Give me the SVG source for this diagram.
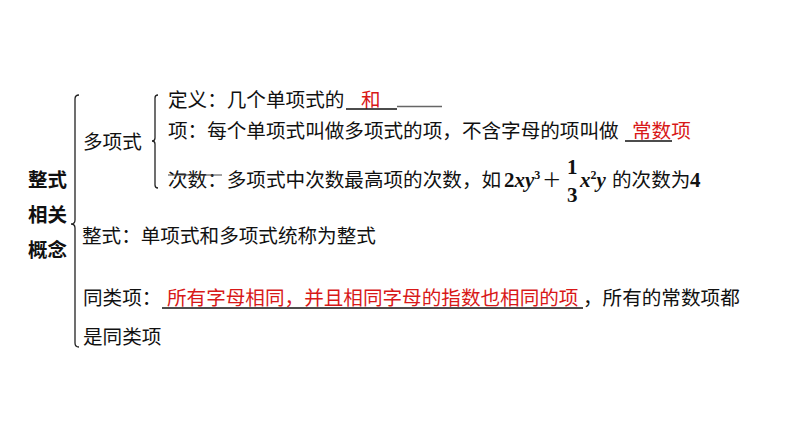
<svg xmlns="http://www.w3.org/2000/svg" width="794" height="447" viewBox="0 0 794 447">
<style>
  .t { font-family: "Noto Sans CJK SC", "Noto Sans", sans-serif; font-size: 19.6px; fill: #111; }
  .r { fill: #d81818; }
  .b { font-family: "Noto Sans CJK SC", sans-serif; font-size: 19.5px; font-weight: bold; fill: #111; }
  .m { font-family: "Liberation Serif", "Times New Roman", serif; font-size: 21px; font-weight: bold; fill: #111; }
  .i { font-style: italic; }
  .u { stroke: #111; stroke-width: 1.3; fill: none; }
  .br { stroke: #222; stroke-width: 1.3; fill: none; }
</style>
<rect width="794" height="447" fill="#fff"/>

<g id="connectors">
  <path class="br" d="M79,95 Q75,95 75,99 L75,220 Q75,224 71,224 Q75,224 75,228 L75,343 Q75,347 79,347"/>
  <path class="br" d="M158,95 Q155,95 155,98 L155,138 Q155,141 152,141 Q155,141 155,144 L155,185 Q155,188 158,188"/>
</g>

<g id="root">
  <text class="b" x="28" y="187">整式</text>
  <text class="b" x="28" y="222">相关</text>
  <text class="b" x="28" y="257">概念</text>
</g>

<g id="polynomial">
  <text class="t" x="83" y="149">多项式</text>
</g>

<g id="definition">
  <text class="t" x="168" y="107">定义：几个单项式的</text>
  <text class="t r" x="361" y="107">和</text>
  <line class="u" x1="346" y1="109" x2="397" y2="109"/>
  <line x1="397" y1="106.5" x2="442" y2="106.5" stroke="#666" stroke-width="1.3"/>
</g>

<g id="term">
  <text class="t" x="168" y="138">项：每个单项式叫做多项式的项，不含字母的项叫做</text>
  <text class="t r" x="632" y="138">常数项</text>
  <line class="u" x1="625" y1="141" x2="672" y2="141"/>
</g>

<g id="degree">
  <text class="t" x="168" y="187">次数：多项式中次数最高项的次数，如</text>
  <line x1="168" y1="175" x2="222" y2="175" stroke="#444" stroke-width="1"/>
  <text class="m" x="504" y="187">2<tspan class="i">xy</tspan><tspan font-size="12" dy="-8">3</tspan></text>
  <text class="t" x="542" y="187">＋</text>
  <text class="m" x="567" y="174">1</text>
  <text class="m" x="567" y="202">3</text>
  <text class="m" x="580" y="187"><tspan class="i">x</tspan><tspan font-size="12" dy="-8">2</tspan><tspan class="i" dy="8">y</tspan></text>
  <text class="t" x="612" y="187">的次数为</text>
  <text class="m" x="690" y="187">4</text>
</g>

<g id="integral">
  <text class="t" x="82" y="243">整式：单项式和多项式统称为整式</text>
</g>

<g id="like-terms">
  <text class="t" x="83" y="305">同类项：</text>
  <text class="t r" x="167" y="305">所有字母相同，并且相同字母的指数也相同的项</text>
  <line class="u" x1="162" y1="308" x2="583" y2="308"/>
  <text class="t" x="583" y="305">，所有的常数项都</text>
  <text class="t" x="83" y="344">是同类项</text>
</g>
</svg>
